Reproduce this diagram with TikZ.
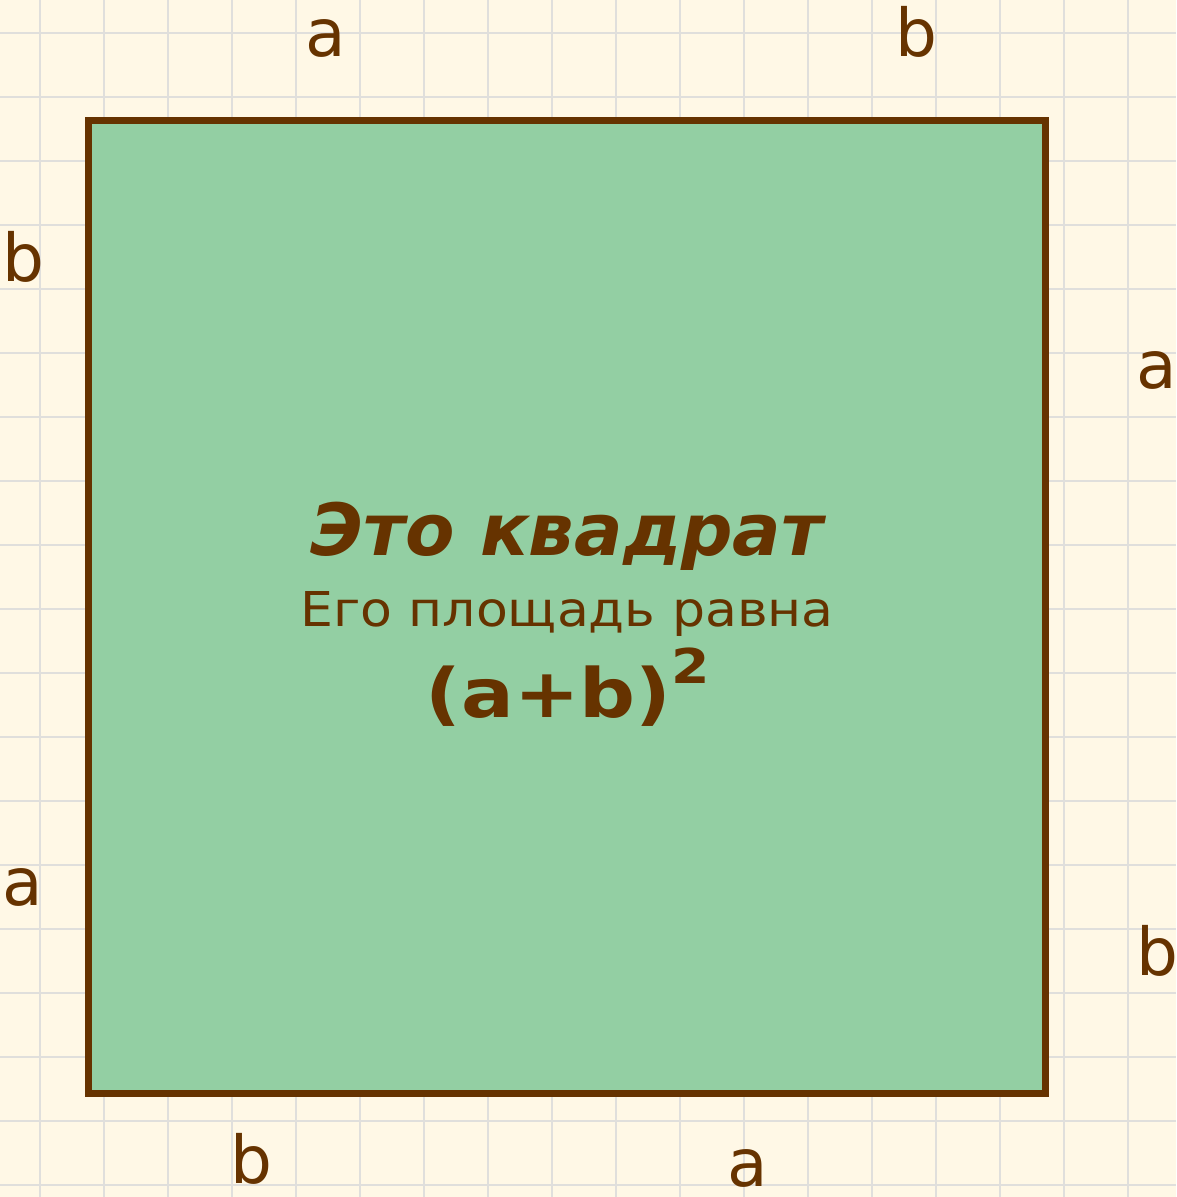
\documentclass[tikz,border=0pt]{standalone}
\usepackage{fontspec}
\setmainfont{DejaVu Sans}
\newfontfamily\widesans[FakeStretch=1.085]{DejaVu Sans}
\newfontfamily\widebold[FakeStretch=1.15]{DejaVu Sans Bold}
\definecolor{bgc}{HTML}{FFF8E6}
\definecolor{gridc}{HTML}{E0DFDC}
\definecolor{fillc}{HTML}{93CFA3}
\definecolor{brownc}{HTML}{663300}
\tikzset{
  lbl/.style={anchor=base, text=brownc, font=\fontsize{33pt}{36pt}\selectfont, inner sep=0pt},
  sq/.style={draw=brownc, fill=fillc, line width=3.3pt, outer sep=0pt, inner sep=0pt},
}
\begin{document}
\begin{tikzpicture}[x=0.5pt,y=-0.5pt]
\useasboundingbox (0,0) rectangle (1176,1197);
\fill[bgc] (0,0) rectangle (1176,1197);
\foreach \i in {0,...,17} {
  \draw[gridc, line width=1.3pt] ({40+64*\i},0) -- ({40+64*\i},1197);
}
\foreach \j in {0,...,18} {
  \draw[gridc, line width=1.3pt] (0,{33+64*\j}) -- (1176,{33+64*\j});
}
\node[sq, minimum width=957*0.5pt, minimum height=973*0.5pt, anchor=north west] (square) at (88.7,120.7) {};
\node[anchor=base, text=brownc, inner sep=0pt, font=\fontsize{36pt}{40pt}\selectfont\bfseries\itshape] (title) at (567,555) {Это квадрат};
\node[anchor=base, text=brownc, inner sep=0pt, font=\fontsize{24pt}{27pt}\widesans] (sub) at (567,626) {Его площадь равна};
\node[anchor=base, text=brownc, inner sep=0pt, font=\fontsize{34pt}{38pt}\widebold] (formula) at (568,717) {(a+b)\raisebox{17pt}{\fontsize{24pt}{26pt}\selectfont 2}};
\node[lbl] (ta) at (326,57) {a};
\node[lbl] (tb) at (916,57) {b};
\node[lbl] (lb) at (23,282) {b};
\node[lbl] (ra) at (1157,388) {a};
\node[lbl] (la) at (23,905) {a};
\node[lbl] (rb) at (1157,975) {b};
\node[lbl] (bb) at (251,1183) {b};
\node[lbl] (ba) at (748,1186) {a};
\end{tikzpicture}
\end{document}
